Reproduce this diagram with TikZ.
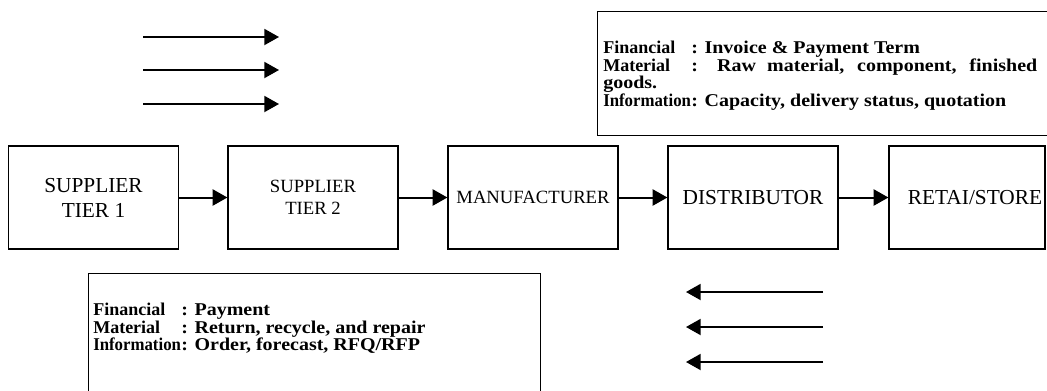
\documentclass[tikz,border=0pt]{standalone}
\usepackage{fontspec}
\setmainfont{Liberation Serif}
\usetikzlibrary{arrows.meta}
\begin{document}
\begin{tikzpicture}[x=0.75pt,y=-0.75pt,
  flowbox/.style={draw, line width=0.9pt, minimum height=77.25pt, minimum width=127.5pt, align=center, inner sep=0pt},
  bigtxt/.style={font=\fontsize{16}{18.75}\selectfont},
  smalltxt/.style={font=\fontsize{14}{16.5}\selectfont},
  link/.style={line width=1.5pt, -{Triangle[length=11pt,width=12pt]}},
  flowarrow/.style={line width=1.4pt, -{Triangle[length=11pt,width=12pt]}},
  infobox/.style={draw, line width=0.9pt, inner sep=0pt, anchor=north west},
  info/.style={font=\bfseries\fontsize{15}{15}\selectfont, inner sep=0pt, anchor=base west},
]
\useasboundingbox (0,0) rectangle (1047,390);
\clip (0,0) rectangle (1047,390);
\newcommand{\lab}[2]{\makebox[66pt][l]{\scalebox{#1}[1]{#2}}}
\newcommand{\infoline}[1]{\scalebox{1}[0.9]{#1}}

% flow arrows (top left)
\coordinate (t1s) at (143,37); \coordinate (t1e) at (279,37);
\coordinate (t2s) at (143,70); \coordinate (t2e) at (279,70);
\coordinate (t3s) at (143,104); \coordinate (t3e) at (279,104);
\draw[flowarrow] (t1s) -- (t1e);
\draw[flowarrow] (t2s) -- (t2e);
\draw[flowarrow] (t3s) -- (t3e);

% flow arrows (bottom right)
\coordinate (b1s) at (823,292); \coordinate (b1e) at (686,292);
\coordinate (b2s) at (823,327); \coordinate (b2e) at (686,327);
\coordinate (b3s) at (823,362); \coordinate (b3e) at (686,362);
\draw[flowarrow] (b1s) -- (b1e);
\draw[flowarrow] (b2s) -- (b2e);
\draw[flowarrow] (b3s) -- (b3e);

% top info box
\node[infobox, minimum width=354.75pt, minimum height=93pt] (topbox) at (597,11) {};
\node[info] (tf) at (603,53) {\infoline{\lab{0.9}{Financial}: Invoice \& Payment Term}};
\node[info] (tm) at (603,71) {\infoline{\makebox[325.5pt][s]{\lab{0.9}{Material}: Raw material, component, finished}}};
\node[info] (tg) at (603,88) {\infoline{goods.}};
\node[info] (ti) at (603,106) {\infoline{\lab{0.84}{Information}: Capacity, delivery status, quotation}};

% bottom info box
\node[infobox, minimum width=339pt, minimum height=97.5pt] (botbox) at (88,273) {};
\node[info] (bf) at (93,315) {\infoline{\lab{0.9}{Financial}: Payment}};
\node[info] (bm) at (93,333) {\infoline{\lab{0.9}{Material}: Return, recycle, and repair}};
\node[info] (bi) at (93,350) {\infoline{\lab{0.84}{Information}: Order, forecast, RFQ/RFP}};

% chain
\node[flowbox, bigtxt] (s1) at (93.5,197.5) {SUPPLIER\\TIER 1};
\node[flowbox, smalltxt] (s2) at (313,197.5) {SUPPLIER\\TIER 2};
\node[flowbox, smalltxt] (mf) at (533,197.5) {MANUFACTURER};
\node[flowbox, bigtxt] (ds) at (753,197.5) {DISTRIBUTOR};
\node[flowbox, bigtxt, minimum width=117pt] (rt) at (967,197.5) {\hspace*{12pt}RETAI/STORE};

\draw[link] (s1) -- (s2);
\draw[link] (s2) -- (mf);
\draw[link] (mf) -- (ds);
\draw[link] (ds) -- (rt);
\end{tikzpicture}
\end{document}
